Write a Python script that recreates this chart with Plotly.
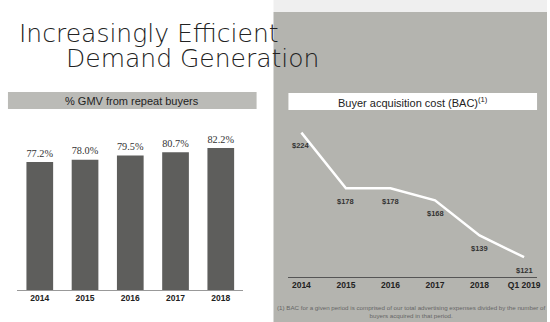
import plotly.graph_objects as go

# ---- data ----
gmv_years = ["2014", "2015", "2016", "2017", "2018"]
gmv_repeat_pct = [77.2, 78.0, 79.5, 80.7, 82.2]
gmv_labels = ["77.2%", "78.0%", "79.5%", "80.7%", "82.2%"]

bac_periods = ["2014", "2015", "2016", "2017", "2018", "Q1 2019"]
bac_values = [224, 178, 178, 168, 139, 121]
bac_labels = ["$224", "$178", "$178", "$168", "$139", "$121"]

W, H = 550, 322
def px(x):
    return x / W
def py(y):
    return 1 - y / H

PANEL = "#b4b4af"
BAR = "#5e5e5c"

fig = go.Figure()

fig.add_trace(go.Bar(
    x=gmv_years, y=gmv_repeat_pct, text=gmv_labels, textposition="outside",
    textfont=dict(family="Liberation Serif", size=13, color="#333333"),
    marker=dict(color=BAR, line=dict(width=0)), cliponaxis=False,
    xaxis="x", yaxis="y", showlegend=False, hoverinfo="skip",
))

fig.add_trace(go.Scatter(
    x=list(range(len(bac_periods))), y=bac_values, mode="lines",
    line=dict(color="white", width=2.5), xaxis="x2", yaxis="y2",
    showlegend=False, hoverinfo="skip",
))

annotations = []
for i, (v, lab) in enumerate(zip(bac_values, bac_labels)):
    annotations.append(dict(
        x=i, y=v, xref="x2", yref="y2", text=lab, showarrow=False,
        yshift=-13, font=dict(family="Liberation Sans", size=7.5, color="#333333", weight="bold"),
    ))

fig.update_layout(
    width=W, height=H, margin=dict(l=0, r=0, t=0, b=0),
    paper_bgcolor="white", plot_bgcolor="rgba(0,0,0,0)",
    bargap=0.41,
    xaxis=dict(domain=[px(17.25), px(244.75)], anchor="y",
               showline=True, linecolor="#999999", linewidth=1,
               ticks="", showgrid=False, fixedrange=True,
               tickfont=dict(family="Liberation Sans", size=8.5, color="#222222", weight="bold")),
    yaxis=dict(domain=[py(290), py(100)], range=[31.5, 99.36], visible=False,
               showgrid=False, fixedrange=True),
    xaxis2=dict(domain=[px(289.6), px(540.4)], anchor="y2", range=[-0.3, 5.3],
                tickmode="array", tickvals=list(range(len(bac_periods))),
                ticktext=bac_periods, showline=True, linecolor="#555555", linewidth=1,
                ticks="", showgrid=False, zeroline=False, fixedrange=True,
                tickfont=dict(family="Liberation Sans", size=8.5, color="#222222", weight="bold")),
    yaxis2=dict(domain=[py(277), py(125)], range=[104.6, 230.3], visible=False,
                showgrid=False, fixedrange=True),
    shapes=[
        dict(type="rect", xref="paper", yref="paper", x0=px(275), x1=1, y0=py(12), y1=1,
             fillcolor="#efefef", line=dict(width=0), layer="below"),
        dict(type="rect", xref="paper", yref="paper", x0=px(275), x1=1, y0=0, y1=py(12),
             fillcolor=PANEL, line=dict(width=0), layer="below"),
        dict(type="rect", xref="paper", yref="paper", x0=px(8), x1=px(258), y0=py(109), y1=py(92),
             fillcolor="#bbbbb7", line=dict(width=0), layer="below"),
        dict(type="rect", xref="paper", yref="paper", x0=px(290), x1=px(540), y0=py(110), y1=py(93),
             fillcolor="white", line=dict(width=0), layer="below"),
    ],
    annotations=annotations + [
        dict(x=px(17), y=py(34), xref="paper", yref="paper", xanchor="left", yanchor="middle",
             text="Increasingly Efficient", showarrow=False,
             font=dict(family="DejaVu Sans", size=25, color="#222222", weight=200)),
        dict(x=px(64), y=py(58), xref="paper", yref="paper", xanchor="left", yanchor="middle",
             text="Demand Generation", showarrow=False,
             font=dict(family="DejaVu Sans", size=25, color="#222222", weight=200)),
        dict(x=px(133), y=py(100.5), xref="paper", yref="paper", xanchor="center", yanchor="middle",
             text="% GMV from repeat buyers", showarrow=False,
             font=dict(family="Liberation Sans", size=11, color="#222222")),
        dict(x=px(415), y=py(101.5), xref="paper", yref="paper", xanchor="center", yanchor="middle",
             text="Buyer acquisition cost (BAC)<sup>(1)</sup>", showarrow=False,
             font=dict(family="Liberation Sans", size=11, color="#222222")),
        dict(x=px(414), y=py(311), xref="paper", yref="paper", xanchor="center", yanchor="middle",
             text="(1) BAC for a given period is comprised of our total advertising expenses divided by the number of<br>buyers acquired in that period.",
             showarrow=False, align="center",
             font=dict(family="Liberation Sans", size=6.2, color="#666666")),
    ],
)

fig.write_html("out.html")
